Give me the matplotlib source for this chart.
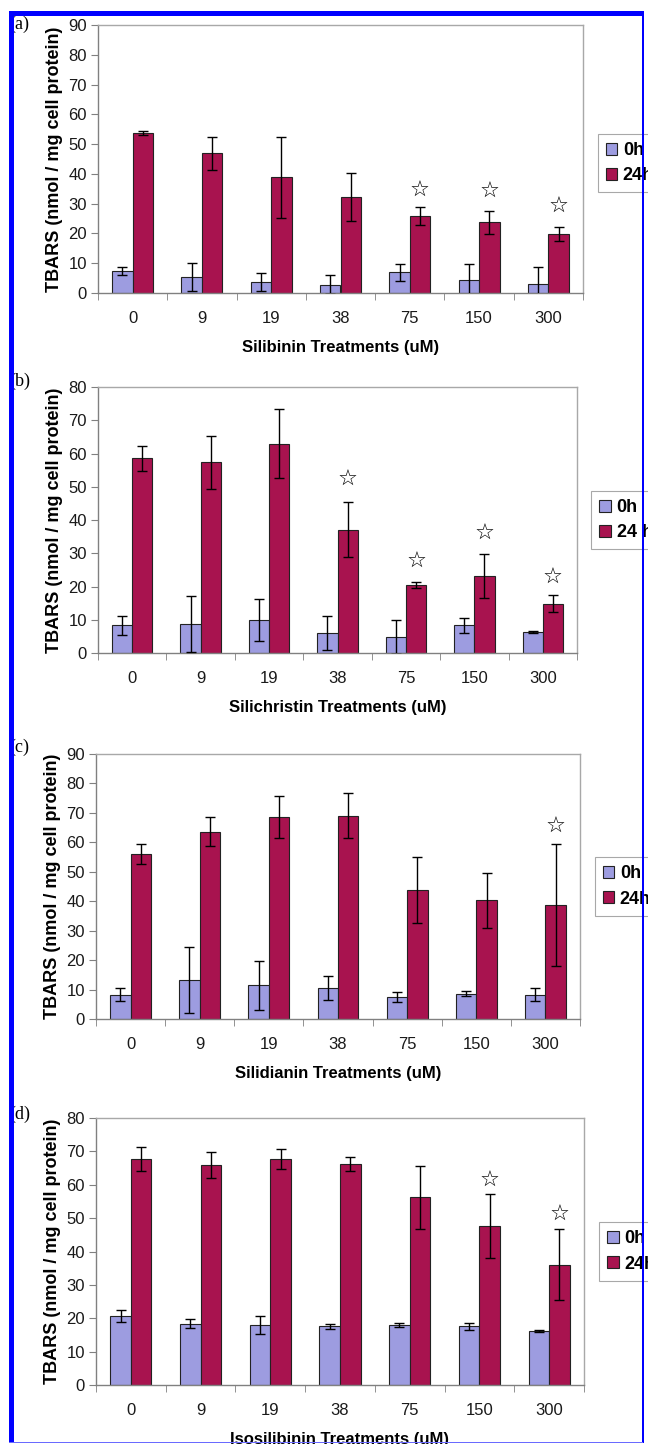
import matplotlib
matplotlib.use('Agg')
import matplotlib.pyplot as plt
from matplotlib.patches import Rectangle, Patch
import numpy as np

plt.rcParams['font.family'] = ['Liberation Sans', 'DejaVu Sans']

doses = ['0', '9', '19', '38', '75', '150', '300']

# a) Silibinin
silibinin_0h = [7.3, 5.3, 3.7, 2.8, 7.0, 4.5, 3.1]
silibinin_0h_err = [1.4, 4.7, 3.0, 3.1, 2.9, 5.4, 5.5]
silibinin_24h = [53.6, 46.9, 38.8, 32.2, 26.0, 23.7, 19.8]
silibinin_24h_err = [0.7, 5.5, 13.6, 8.0, 3.0, 4.0, 2.5]
silibinin_stars = [None, None, None, None, 34.2, 33.9, 28.8]

# b) Silichristin
silichristin_0h = [8.3, 8.8, 10.0, 6.0, 4.8, 8.3, 6.4]
silichristin_0h_err = [2.8, 8.4, 6.3, 5.1, 5.0, 2.3, 0.3]
silichristin_24h = [58.5, 57.3, 63.0, 37.1, 20.4, 23.1, 14.8]
silichristin_24h_err = [3.7, 8.0, 10.4, 8.3, 1.0, 6.7, 2.6]
silichristin_stars = [None, None, None, 52.1, 27.4, 35.8, 22.7]

# c) Silidianin
silidianin_0h = [8.3, 13.1, 11.4, 10.4, 7.5, 8.6, 8.3]
silidianin_0h_err = [2.1, 11.2, 8.4, 4.1, 1.7, 0.9, 2.1]
silidianin_24h = [56.1, 63.6, 68.6, 69.1, 43.9, 40.3, 38.8]
silidianin_24h_err = [3.4, 4.9, 7.1, 7.6, 11.2, 9.4, 20.7]
silidianin_stars = [None, None, None, None, None, None, 65.2]

# d) Isosilibinin
isosilibinin_0h = [20.7, 18.4, 18.0, 17.6, 18.0, 17.6, 16.3]
isosilibinin_0h_err = [1.9, 1.4, 2.8, 0.7, 0.7, 1.1, 0.3]
isosilibinin_24h = [67.7, 65.8, 67.7, 66.1, 56.2, 47.6, 36.1]
isosilibinin_24h_err = [3.6, 3.9, 3.1, 2.1, 9.5, 9.5, 10.7]
isosilibinin_stars = [None, None, None, None, None, 61.1, 50.9]

C0 = '#9d9ce0'
C24 = '#a8134f'
W, H = 648, 1444

fig = plt.figure(figsize=(W / 100, H / 100), dpi=100)


def px_axes(left, top, right, bottom):
    return fig.add_axes([left / W, 1 - bottom / H, (right - left) / W, (bottom - top) / H])


def draw_panel(ax, v0, e0, v24, e24, stars, ymax, xlabel, lab24, legy):
    x = np.arange(len(doses))
    w = 0.296
    ax.bar(x - w / 2, v0, w, color=C0, edgecolor='#222222', linewidth=0.8, zorder=2)
    ax.bar(x + w / 2, v24, w, color=C24, edgecolor='#222222', linewidth=0.8, zorder=2)
    ax.errorbar(x - w / 2, v0, yerr=e0, fmt='none', ecolor='black',
                elinewidth=1.0, capsize=3.5, capthick=1.0, zorder=3)
    ax.errorbar(x + w / 2, v24, yerr=e24, fmt='none', ecolor='black',
                elinewidth=1.0, capsize=3.5, capthick=1.0, zorder=3)
    for xi, s in zip(x, stars):
        if s is not None:
            ax.text(xi + w / 2, s, '\u2606', ha='center', va='center',
                    fontsize=16, fontweight='bold', family='DejaVu Sans', color='black')
    ax.set_xlim(-0.5, len(doses) - 0.5)
    ax.set_ylim(0, ymax)
    ax.set_yticks(np.arange(0, ymax + 1, 10))
    ax.set_xticks(x)
    ax.set_xticklabels(doses)
    ax.set_xticks(np.arange(-0.5, len(doses), 1), minor=True)
    ax.tick_params(axis='x', which='major', length=0, pad=13, labelsize=12, labelcolor='#1a1a1a')
    ax.tick_params(axis='x', which='minor', length=5, color='#808080', direction='out')
    ax.tick_params(axis='y', length=5, color='#808080', labelsize=12, pad=3, labelcolor='#1a1a1a')
    for side in ['top', 'right']:
        ax.spines[side].set_color('#a8a8a8')
    for side in ['left', 'bottom']:
        ax.spines[side].set_color('#808080')
    for sp in ax.spines.values():
        sp.set_linewidth(1.0)
    ax.set_ylabel('TBARS (nmol / mg cell protein)', fontsize=13, fontweight='bold', labelpad=4)
    ax.set_xlabel(xlabel, fontsize=12, fontweight='bold', labelpad=10)
    handles = [Patch(facecolor=C0, edgecolor='#222222', linewidth=0.8),
               Patch(facecolor=C24, edgecolor='#222222', linewidth=0.8)]
    leg = ax.legend(handles, ['0h', lab24], loc='center left', bbox_to_anchor=(1.03, legy),
                    borderaxespad=0, fancybox=False, edgecolor='#a8a8a8', framealpha=1,
                    handlelength=0.65, handleheight=0.65, handletextpad=0.3,
                    prop={'weight': 'bold', 'size': 13}, borderpad=0.45, labelspacing=0.45)
    leg.get_frame().set_linewidth(0.8)


ax_a = px_axes(98, 25, 583, 293)
draw_panel(ax_a, silibinin_0h, silibinin_0h_err, silibinin_24h, silibinin_24h_err,
           silibinin_stars, 90, 'Silibinin Treatments (uM)', '24h', 0.485)
ax_b = px_axes(98, 387, 577, 653)
draw_panel(ax_b, silichristin_0h, silichristin_0h_err, silichristin_24h, silichristin_24h_err,
           silichristin_stars, 80, 'Silichristin Treatments (uM)', '24 h', 0.5)
ax_c = px_axes(96, 754, 580, 1019)
draw_panel(ax_c, silidianin_0h, silidianin_0h_err, silidianin_24h, silidianin_24h_err,
           silidianin_stars, 90, 'Silidianin Treatments (uM)', '24h', 0.5)
ax_d = px_axes(96, 1118, 584, 1385)
draw_panel(ax_d, isosilibinin_0h, isosilibinin_0h_err, isosilibinin_24h, isosilibinin_24h_err,
           isosilibinin_stars, 80, 'Isosilibinin Treatments (uM)', '24h', 0.5)

# panel letters
for lab, ypx in [('(a)', 24), ('(b)', 381), ('(c)', 747), ('(d)', 1114)]:
    fig.text(9 / W, 1 - ypx / H, lab, ha='left', va='center', fontsize=13,
             family='Liberation Serif')

# blue frame
frame = [(9.3, 11, 4.3, 1432, '#0000ff'),
         (9.3, 11, 634, 4.5, '#0000ff'),
         (642, 11, 2, 1432, '#0000ff'),
         (9.3, 1442, 634, 1.3, '#6a6aff')]
for fx, fy, fw, fh, fc in frame:
    fig.add_artist(Rectangle((fx / W, 1 - (fy + fh) / H), fw / W, fh / H,
                             transform=fig.transFigure, facecolor=fc,
                             edgecolor='none', zorder=10))

fig.savefig('out.png', dpi=100)
